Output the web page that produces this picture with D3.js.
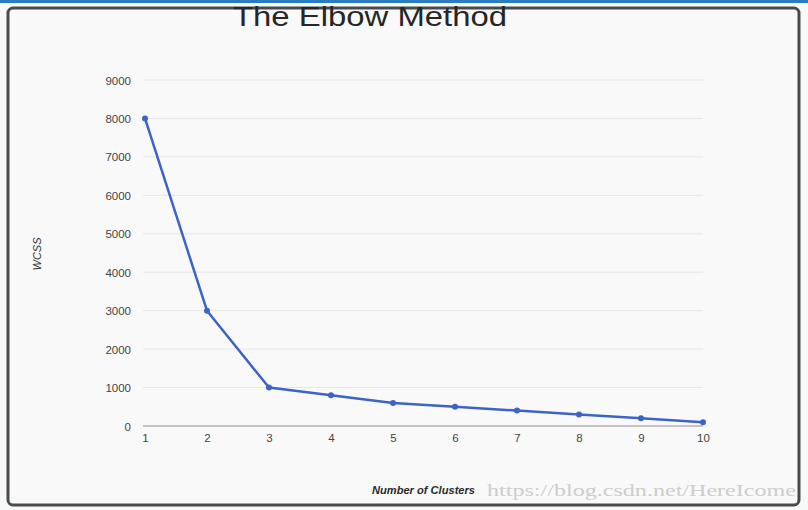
<!DOCTYPE html>
<html><head><meta charset="utf-8">
<script src="https://cdn.jsdelivr.net/npm/d3@7"></script>
<style>html,body{margin:0;padding:0;background:#f7f8f8;}svg{display:block;}</style>
</head><body>
<svg id="c" width="808" height="510"></svg>
<script>
const clusters = [1,2,3,4,5,6,7,8,9,10];
const wcss = [8000,3000,1000,800,600,500,400,300,200,100];
const yTicks = [0,1000,2000,3000,4000,5000,6000,7000,8000,9000];
const title = "The Elbow Method";
const xTitle = "Number of Clusters";
const yTitle = "WCSS";
const watermark = "https://blog.csdn.net/HereIcome";

const svg = d3.select("#c");
svg.append("rect").attr("x",0).attr("y",0).attr("width",808).attr("height",510).attr("fill","#f7f8f8");
svg.append("rect").attr("x",0).attr("y",0).attr("width",808).attr("height",3).attr("fill","#2a7bbf");
svg.append("rect").attr("x",8).attr("y",8).attr("width",791).attr("height",497).attr("rx",5)
  .attr("fill","#f9f9f9").attr("stroke","#4a4a4a").attr("stroke-width",3);

const x = d3.scaleLinear().domain([1,10]).range([145,703]);
const y = d3.scaleLinear().domain([0,9000]).range([426,80]);

// gridlines
svg.append("g").selectAll("line").data(yTicks.filter(d=>d>0)).join("line")
  .attr("x1",143).attr("x2",703).attr("y1",d=>y(d)).attr("y2",d=>y(d))
  .attr("stroke","#e6e6e6").attr("stroke-width",1);
svg.append("line").attr("x1",143).attr("x2",703).attr("y1",y(0)).attr("y2",y(0))
  .attr("stroke","#c4c4c4").attr("stroke-width",2);

const yAxis = d3.axisLeft(y).tickValues(yTicks).tickSize(0).tickPadding(0).tickFormat(d3.format("d"));
const gy = svg.append("g").attr("transform","translate(131,0)").call(yAxis);
gy.select(".domain").remove();
gy.selectAll("text").attr("font-family","Liberation Sans, Arial, sans-serif").attr("font-size",11.5)
  .attr("fill","#444").attr("dy","0.35em");

const xAxis = d3.axisBottom(x).tickValues(clusters).tickSize(0).tickPadding(0).tickFormat(d3.format("d"));
const gx = svg.append("g").attr("transform","translate(0,434)").call(xAxis);
gx.select(".domain").remove();
gx.selectAll("text").attr("font-family","Liberation Sans, Arial, sans-serif").attr("font-size",11.5)
  .attr("fill","#444").attr("dy","0.71em");

const pts = clusters.map((c,i)=>[c,wcss[i]]);
svg.append("path").datum(pts)
  .attr("d", d3.line().x(d=>x(d[0])).y(d=>y(d[1])))
  .attr("fill","none").attr("stroke","#3c63c6").attr("stroke-width",2.5).attr("stroke-linejoin","round");
svg.append("g").selectAll("circle").data(pts).join("circle")
  .attr("cx",d=>x(d[0])).attr("cy",d=>y(d[1])).attr("r",3).attr("fill","#3c63c6");

svg.append("text").attr("x",370).attr("y",26).attr("text-anchor","middle")
  .attr("font-family","Liberation Sans, Arial, sans-serif").attr("font-size",27)
  .attr("fill","#262626").attr("textLength",274).attr("lengthAdjust","spacingAndGlyphs").text(title);

svg.append("text").attr("transform","translate(41,254) rotate(-90)").attr("text-anchor","middle")
  .attr("font-family","Liberation Sans, Arial, sans-serif").attr("font-size",11).attr("font-style","italic")
  .attr("fill","#333").text(yTitle);

svg.append("text").attr("x",372).attr("y",494)
  .attr("font-family","Liberation Sans, Arial, sans-serif").attr("font-size",10.5).attr("font-style","italic")
  .attr("font-weight","bold").attr("fill","#2a2a2a").attr("textLength",103).attr("lengthAdjust","spacingAndGlyphs").text(xTitle);

svg.append("text").attr("x",487).attr("y",496)
  .attr("font-family","Liberation Serif, serif").attr("font-size",17)
  .attr("fill","#cdcdcd").attr("textLength",309).attr("lengthAdjust","spacingAndGlyphs").text(watermark);
</script>
</body></html>
